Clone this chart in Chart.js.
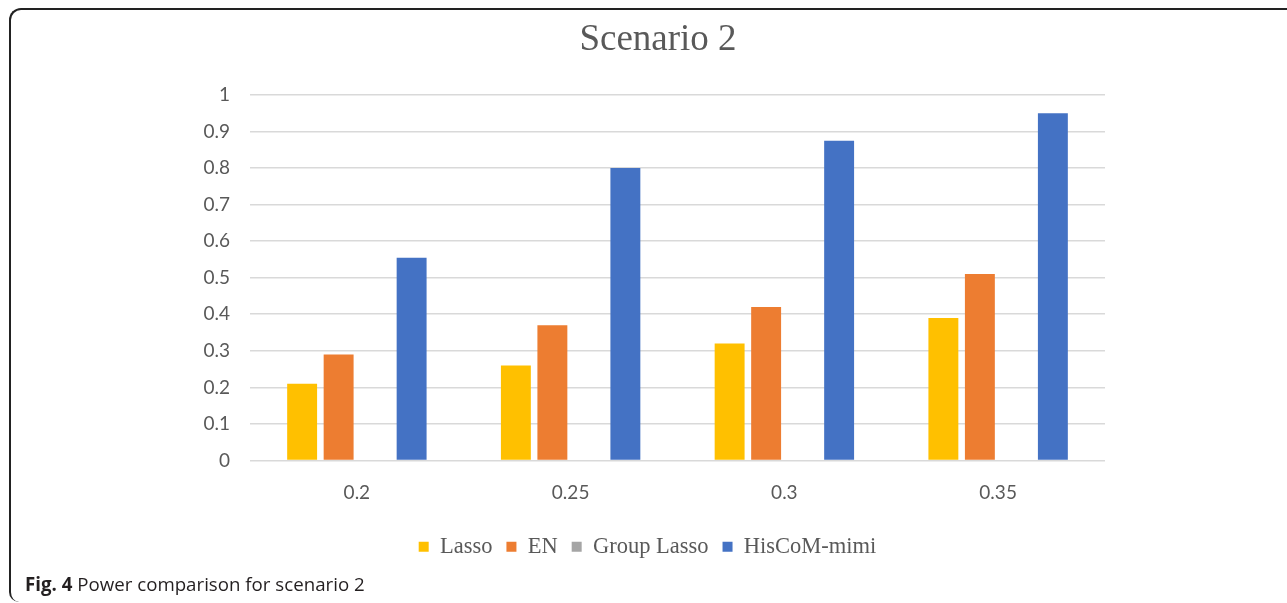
<!DOCTYPE html>
<html>
<head>
<meta charset="utf-8">
<script src="https://cdn.jsdelivr.net/npm/chart.js@4/dist/chart.umd.min.js"></script>
<style>
  html, body { margin: 0; padding: 0; background: #fff; overflow: hidden; }
  body { width: 1287px; height: 603px; position: relative; }
  .frame {
    position: absolute; left: 9px; top: 8px; width: 1300px; height: 592px;
    border-top: 2px solid #222; border-left: 2px solid #222;
    border-top-left-radius: 12px; border-bottom-left-radius: 10px;
    border-bottom: 0; border-right: 0;
  }
  #wrap { position: absolute; left: 0; top: 0; width: 1287px; height: 603px; }
  .caption {
    position: absolute; left: 25px; top: 571px;
    font-family: "Open Sans", sans-serif; font-size: 18.7px; color: #231f20;
    white-space: nowrap;
  }
  .caption b { font-weight: 700; }
</style>
</head>
<body>
<div class="frame"></div>
<div id="wrap"><canvas id="c" width="1287" height="603"></canvas></div>
<div class="caption"><b>Fig. 4</b> Power comparison for scenario 2</div>
<script>
// Effect sizes on the x axis
const categories = ["0.2", "0.25", "0.3", "0.35"];
// Power of each method
const lasso = [0.21, 0.26, 0.32, 0.39];
const en = [0.29, 0.37, 0.42, 0.51];
const groupLasso = [0, 0, 0, 0];
const hiscom = [0.555, 0.80, 0.875, 0.95];
const seriesNames = ["Lasso", "EN", "Group Lasso", "HisCoM-mimi"];
const seriesColors = ["#FFC000", "#ED7D31", "#A5A5A5", "#4472C4"];
const chartTitle = "Scenario 2";

const values = [lasso, en, groupLasso, hiscom];

// Title centred on the whole framed figure rather than on the plot area
const titleOnFrame = {
  id: "titleOnFrame",
  afterDraw(chart) {
    const ctx = chart.ctx;
    ctx.save();
    ctx.font = "37px 'Liberation Serif'";
    ctx.fillStyle = "#595959";
    ctx.textAlign = "center";
    ctx.textBaseline = "middle";
    ctx.fillText(chartTitle, 658, 40);
    ctx.restore();
  }
};

new Chart(document.getElementById("c"), {
  type: "bar",
  data: {
    labels: categories,
    datasets: values.map((v, i) => ({
      label: seriesNames[i],
      data: v,
      backgroundColor: seriesColors[i],
      borderWidth: 0,
      categoryPercentage: 0.683,
      barPercentage: 0.82
    }))
  },
  plugins: [titleOnFrame],
  options: {
    responsive: false,
    animation: false,
    devicePixelRatio: 1,
    layout: { padding: { left: 190, right: 182, top: 95, bottom: 35 } },
    plugins: {
      title: { display: false },
      legend: {
        position: "bottom",
        labels: {
          color: "#595959",
          font: { family: "Liberation Serif", size: 22.5 },
          boxWidth: 10,
          boxHeight: 10,
          padding: 14
        }
      },
      tooltip: { enabled: false }
    },
    scales: {
      x: {
        grid: { display: false, drawTicks: false },
        border: { display: false },
        ticks: { color: "#595959", font: { family: "Lato", size: 19 }, padding: 21 },
        afterFit: (s) => { s.height = 61; }
      },
      y: {
        min: 0, max: 1,
        ticks: {
          stepSize: 0.1,
          color: "#595959",
          font: { family: "Lato", size: 19 },
          padding: 20,
          callback: (v) => String(Math.round(v * 10) / 10)
        },
        grid: { color: "#d9d9d9", lineWidth: 1.6, drawTicks: false },
        border: { display: false },
        afterFit: (s) => { s.width = 60; }
      }
    }
  }
});
</script>
</body>
</html>
